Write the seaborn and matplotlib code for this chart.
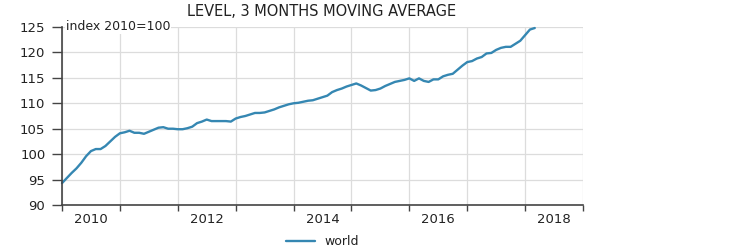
import numpy as np
import pandas as pd
import matplotlib
matplotlib.use("Agg")
import matplotlib.pyplot as plt
import seaborn as sns
from matplotlib.ticker import FixedLocator, NullFormatter

# monthly values, Jan 2010 .. Feb 2018 (index 2010=100)
values_2010 = [94.3, 95.3, 96.3, 97.2, 98.3, 99.6, 100.6, 101.0, 101.0, 101.6, 102.5, 103.4]
values_2011 = [104.1, 104.3, 104.6, 104.2, 104.2, 104.0, 104.4, 104.8, 105.2, 105.3, 105.0, 105.0]
values_2012 = [104.9, 104.9, 105.1, 105.4, 106.1, 106.4, 106.8, 106.5, 106.5, 106.5, 106.5, 106.4]
values_2013 = [107.0, 107.3, 107.5, 107.8, 108.1, 108.1, 108.2, 108.5, 108.8, 109.2, 109.5, 109.8]
values_2014 = [110.0, 110.1, 110.3, 110.5, 110.6, 110.9, 111.2, 111.5, 112.2, 112.6, 112.9, 113.3]
values_2015 = [113.6, 113.9, 113.5, 113.0, 112.5, 112.6, 112.9, 113.4, 113.8, 114.2, 114.4, 114.6]
values_2016 = [114.9, 114.4, 114.9, 114.4, 114.2, 114.7, 114.7, 115.3, 115.6, 115.8, 116.6, 117.4]
values_2017 = [118.1, 118.3, 118.8, 119.1, 119.8, 119.9, 120.5, 120.9, 121.1, 121.1, 121.7, 122.3]
values_2018 = [123.4, 124.5, 124.8]

series_name = "world"
title = "LEVEL, 3 MONTHS MOVING AVERAGE"
unit_note = "index 2010=100"
year_ticks = [2010, 2011, 2012, 2013, 2014, 2015, 2016, 2017, 2018, 2019]
year_labels = ["2010", "2012", "2014", "2016", "2018"]
y_ticks = [90, 95, 100, 105, 110, 115, 120, 125]

values = (values_2010 + values_2011 + values_2012 + values_2013 + values_2014
          + values_2015 + values_2016 + values_2017 + values_2018)
dates = [2010 + i / 12 for i in range(len(values))]
df = pd.DataFrame({"date": dates, "value": values, "series": series_name})

sns.set_theme(style="white")
plt.rcParams["font.family"] = ["DejaVu Sans"]

fig = plt.figure(figsize=(7.5, 2.52), dpi=100)
ax = fig.add_axes([62 / 750, 1 - 205 / 252, (583 - 62) / 750, (205 - 27) / 252])

sns.lineplot(data=df, x="date", y="value", hue="series", palette=["#3587b2"],
             linewidth=1.7, ax=ax)
for ln in ax.get_lines():
    ln.set_clip_on(False)

txt_color = "#222222"
ax.set_xlim(2010, 2019)
ax.set_ylim(90, 125)
ax.xaxis.set_major_locator(FixedLocator(year_ticks))
ax.xaxis.set_major_formatter(NullFormatter())
ax.set_xticks([int(l) + 0.5 for l in year_labels], labels=year_labels, minor=True)
ax.tick_params(axis="x", which="minor", length=0, pad=6, labelsize=9.5, labelcolor=txt_color)
ax.tick_params(axis="x", which="major", length=4, width=1, color="#444444", direction="out")
ax.set_yticks(y_ticks)
ax.tick_params(axis="y", length=7, width=1, color="#444444", direction="out",
               labelsize=9.5, labelcolor=txt_color, pad=5)
ax.tick_params(bottom=True, left=True)

ax.grid(True, which="major", color="#dcdcdc", linewidth=0.9)
for s in ["top", "right"]:
    ax.spines[s].set_visible(False)
for s in ["left", "bottom"]:
    ax.spines[s].set_color("#444444")
    ax.spines[s].set_linewidth(1.2)

ax.set_xlabel("")
ax.set_ylabel("")
ax.text(0.008, 1.0, unit_note, transform=ax.transAxes, ha="left", va="center",
        fontsize=9, color=txt_color,
        bbox=dict(facecolor="white", edgecolor="none", pad=0.5))
fig.text(322 / 750, 1 - 12 / 252, title, ha="center", va="center",
         fontsize=10.5, color=txt_color)

leg = ax.legend(loc="center", bbox_to_anchor=(0.5, -0.205), frameon=False,
                fontsize=9, handlelength=2.3, borderaxespad=0)
for t in leg.get_texts():
    t.set_color(txt_color)

fig.savefig("out.png", dpi=100)
